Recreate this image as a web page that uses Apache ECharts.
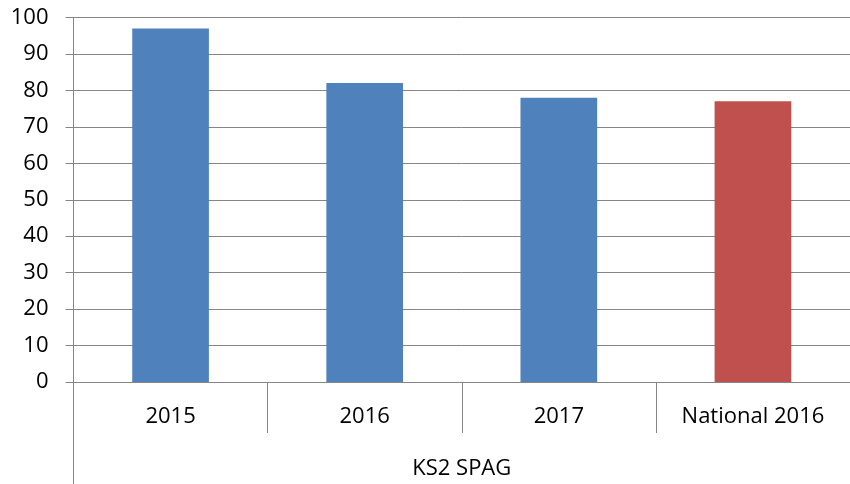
<!DOCTYPE html>
<html>
<head>
<meta charset="utf-8">
<script src="https://cdn.jsdelivr.net/npm/echarts@6/dist/echarts.min.js"></script>
<style>
  html, body { margin: 0; padding: 0; background: #fff; }
  #chart { width: 850px; height: 484px; }
</style>
</head>
<body>
<div id="chart"></div>
<script>
// data
const categories = ['2015', '2016', '2017', 'National 2016'];
const groupLabels = ['KS2 SPAG'];
const scores = [97, 82, 78, 77];
const barColors = ['#4F81BD', '#4F81BD', '#4F81BD', '#C0504D'];

const font = '"Open Sans", "Noto Sans", sans-serif';
const gray = '#868686';

const chart = echarts.init(document.getElementById('chart'));

const option = {
  animation: false,
  grid: {
    left: 73.5,
    right: -5.5,
    top: 17.5,
    bottom: 102,
    containLabel: false
  },
  xAxis: [
    {
      type: 'category',
      data: categories,
      position: 'bottom',
      axisLine: { lineStyle: { color: gray, width: 1 } },
      axisTick: { show: true, interval: 0, length: 51, lineStyle: { color: gray } },
      axisLabel: { interval: 0, margin: 24, color: '#000', fontFamily: font, fontSize: 22 }
    },
    {
      type: 'category',
      data: groupLabels,
      position: 'bottom',
      axisLine: { show: false },
      axisTick: { show: true, length: 110, lineStyle: { color: gray } },
      axisLabel: { margin: 76, color: '#000', fontFamily: font, fontSize: 22 }
    }
  ],
  yAxis: {
    type: 'value',
    min: 0,
    max: 100,
    interval: 10,
    axisLine: { show: true, lineStyle: { color: gray } },
    axisTick: { show: true, length: 8, lineStyle: { color: gray } },
    axisLabel: { margin: 25, color: '#000', fontFamily: font, fontSize: 22 },
    splitLine: { show: true, lineStyle: { color: gray, width: 1 } }
  },
  series: [
    {
      type: 'bar',
      xAxisIndex: 0,
      barWidth: '39.5%',
      data: scores.map((v, i) => ({ value: v, itemStyle: { color: barColors[i] } }))
    }
  ]
};

chart.setOption(option);
</script>
</body>
</html>
